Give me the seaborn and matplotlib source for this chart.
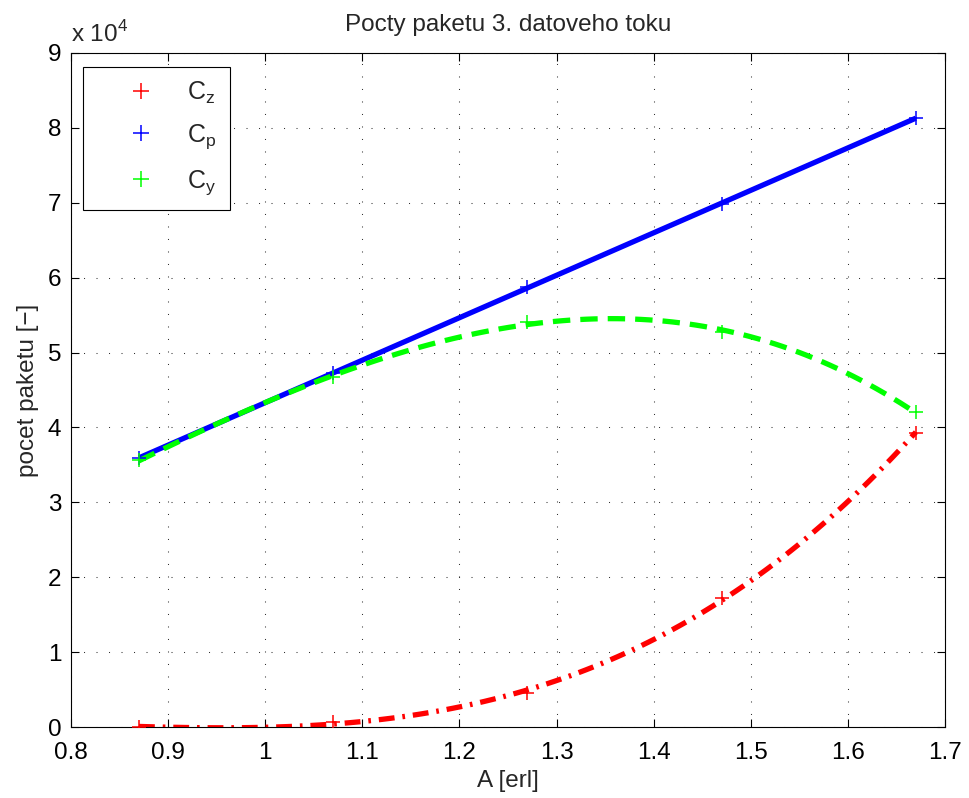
import numpy as np
import pandas as pd
import matplotlib
matplotlib.use("Agg")
import matplotlib.pyplot as plt
from matplotlib.lines import Line2D
from matplotlib.ticker import FuncFormatter, FixedLocator
import seaborn as sns

# ---- data ----
A_erl = [0.87, 1.07, 1.27, 1.47, 1.67]
C_z = [0, 700, 4500, 17200, 39300]
C_p = [35900, 47300, 58700, 69900, 81300]
C_y = [35600, 46700, 54100, 52800, 42000]
series_names = ["$\\mathregular{C_z}$", "$\\mathregular{C_p}$", "$\\mathregular{C_y}$"]
x_ticks = [0.8, 0.9, 1.0, 1.1, 1.2, 1.3, 1.4, 1.5, 1.6, 1.7]
y_ticks = [0, 10000, 20000, 30000, 40000, 50000, 60000, 70000, 80000, 90000]

sns.set_theme(style="ticks")
plt.rcParams["font.family"] = ["Liberation Sans", "DejaVu Sans"]
plt.rcParams["mathtext.fontset"] = "custom"
plt.rcParams["mathtext.rm"] = "Liberation Sans"

FS = 17.5
fig = plt.figure(figsize=(9.69, 7.98), dpi=100)
ax = fig.add_axes([71 / 969, 1 - 727 / 798, (945 - 71) / 969, (727 - 53) / 798])

df = pd.DataFrame({"A": A_erl, "Cz": C_z, "Cp": C_p, "Cy": C_y})

lw = 3.8
specs = [
    ("Cz", (1, 0, 0), (0, (3.0, 1.5, 0.5, 1.5)), 3),
    ("Cp", (0, 0, 1), "-", 1),
    ("Cy", (0, 1, 0), (0, (3.3, 1.9)), 3),
]
for col, color, ls, order in specs:
    sns.regplot(data=df, x="A", y=col, order=order, ci=None, scatter=False,
                truncate=True, ax=ax,
                line_kws=dict(color=color, lw=lw, linestyle=ls,
                              solid_capstyle="butt", dash_capstyle="butt"))

for col, color, ls, order in specs:
    sns.scatterplot(data=df, x="A", y=col, ax=ax, marker="+", s=90,
                    color=color, linewidth=1.1, zorder=5, legend=False)

ax.set_xlim(0.8, 1.7)
ax.set_ylim(0, 90000)
ax.xaxis.set_major_locator(FixedLocator(x_ticks))
ax.yaxis.set_major_locator(FixedLocator(y_ticks))
ax.xaxis.set_major_formatter(FuncFormatter(lambda v, p: f"{v:g}"))
ax.yaxis.set_major_formatter(FuncFormatter(lambda v, p: f"{v/1e4:g}"))

ax.grid(True, color="#333333", linestyle=(0, (1, 11)), linewidth=0.75)
for s in ax.spines.values():
    s.set_visible(True)
    s.set_color("black")
    s.set_linewidth(0.8)
ax.tick_params(direction="in", length=6, width=0.8, top=True, right=True,
               labelsize=FS, colors="black")
ax.tick_params(axis="x", pad=11)
ax.tick_params(axis="y", pad=7)

ax.set_xlabel("A [erl]", fontsize=FS, labelpad=4)
ax.set_ylabel("pocet paketu [\u2212]", fontsize=FS, labelpad=6)
ax.set_title("Pocty paketu 3. datoveho toku", fontsize=FS, pad=16)
ax.text(0.0, 1 + (53 - 42) / 674, "x 10$^{\\mathregular{4}}$", transform=ax.transAxes,
        fontsize=FS, va="baseline", ha="left")

handles = [Line2D([], [], linestyle="none", marker="+", markersize=11,
                  markeredgewidth=1.1, color=c) for _, c, _, _ in specs]
leg = ax.legend(handles, series_names, loc="upper left",
                bbox_to_anchor=(12 / 874, 1 - 14 / 674), borderaxespad=0,
                fontsize=18, frameon=True, fancybox=False, framealpha=1,
                edgecolor="black", handlelength=3.6, handletextpad=0.05,
                labelspacing=0.66, borderpad=0.52)
leg.get_frame().set_linewidth(0.8)

fig.savefig("out.png", dpi=100)
